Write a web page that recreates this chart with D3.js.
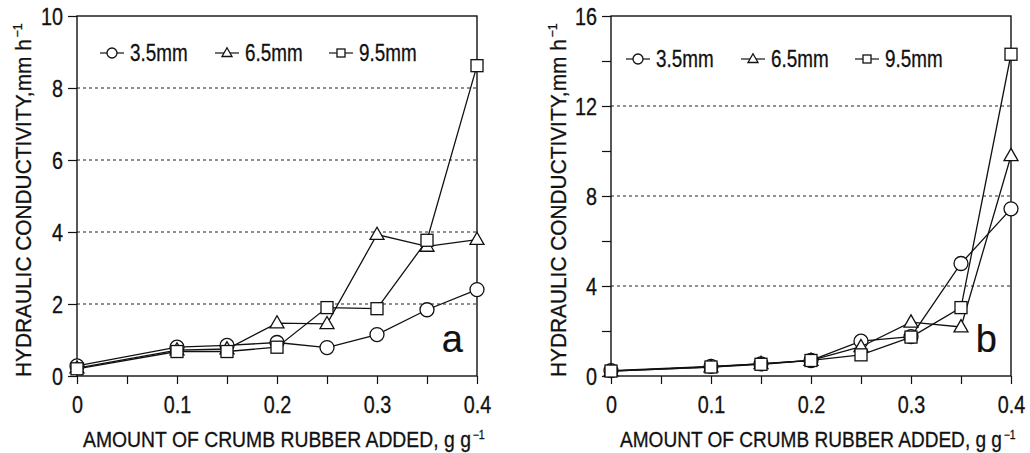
<!DOCTYPE html>
<html>
<head>
<meta charset="utf-8">
<script src="https://cdn.jsdelivr.net/npm/d3@7"></script>
<style>
  html, body { margin: 0; padding: 0; background: #fff; }
  svg { display: block; }
  text { font-family: "Liberation Sans", Arial, sans-serif; fill: #111; stroke: #111; stroke-width: 0.3px; }
</style>
</head>
<body>
<svg id="chart" width="1030" height="453"></svg>
<script>
// ---------------- DATA ----------------
const xValues = [0, 0.1, 0.15, 0.2, 0.25, 0.3, 0.35, 0.4];
const seriesNames = ["3.5mm", "6.5mm", "9.5mm"];
const seriesSymbols = ["circle", "triangle", "square"];

// Panel a
const a_35 = [0.28, 0.80, 0.85, 0.93, 0.79, 1.15, 1.84, 2.40];
const a_65 = [0.22, 0.72, 0.75, 1.47, 1.45, 3.93, 3.60, 3.79];
const a_95 = [0.20, 0.68, 0.68, 0.80, 1.90, 1.87, 3.77, 8.62];

// Panel b
const b_35 = [0.24, 0.43, 0.54, 0.69, 1.55, 1.75, 5.00, 7.43];
const b_65 = [0.22, 0.40, 0.55, 0.69, 1.30, 2.39, 2.18, 9.79];
const b_95 = [0.22, 0.40, 0.52, 0.69, 0.94, 1.73, 3.04, 14.30];

const xTicks = [0, 0.05, 0.1, 0.15, 0.2, 0.25, 0.3, 0.35, 0.4];
const xTickLabels = ["0", "", "0.1", "", "0.2", "", "0.3", "", "0.4"];

const a_yTicks = [0, 2, 4, 6, 8, 10];
const a_yTickLabels = ["0", "2", "4", "6", "8", "10"];
const a_grid = [2, 4, 6, 8];

const b_yTicks = [0, 2, 4, 6, 8, 10, 12, 14, 16];
const b_yTickLabels = ["0", "", "4", "", "8", "", "12", "", "16"];
const b_grid = [4, 8, 12];

const xTitle = "AMOUNT OF CRUMB RUBBER ADDED, g g";
const yTitle = "HYDRAULIC CONDUCTIVITY,mm h";
const sup = "\u22121";

// ---------------- LAYOUT ----------------
const svg = d3.select("#chart");
const panels = [
  { left: 77, right: 477, top: 16, bottom: 376, yMax: 10, series: [a_35, a_65, a_95],
    yTicks: a_yTicks, yLabels: a_yTickLabels, grid: a_grid, letter: "a",
    yTitleX: 31, legendY: 53, legendX: [112, 227, 341], xTitleSpan: [83, 483] },
  { left: 611, right: 1011, top: 16, bottom: 376, yMax: 16, series: [b_35, b_65, b_95],
    yTicks: b_yTicks, yLabels: b_yTickLabels, grid: b_grid, letter: "b",
    yTitleX: 566, legendY: 59, legendX: [638, 753, 867], xTitleSpan: [620, 1014] }
];

function drawSymbol(g, type, cx, cy, s) {
  if (type === "circle") {
    g.append("circle").attr("cx", cx).attr("cy", cy).attr("r", s / 2)
      .attr("fill", "#fff").attr("stroke", "#111").attr("stroke-width", 1.3);
  } else if (type === "square") {
    g.append("rect").attr("x", cx - s / 2 + 0.5).attr("y", cy - s / 2 + 0.5)
      .attr("width", s - 1).attr("height", s - 1)
      .attr("fill", "#fff").attr("stroke", "#111").attr("stroke-width", 1.3);
  } else {
    const h = s * 0.87;
    const pts = [[cx, cy - h * 0.6], [cx - s / 2, cy + h * 0.4], [cx + s / 2, cy + h * 0.4]];
    g.append("polygon").attr("points", pts.map(p => p.join(",")).join(" "))
      .attr("fill", "#fff").attr("stroke", "#111").attr("stroke-width", 1.3);
  }
}

// horizontally condense a text element around its own x anchor
function condense(node, k) {
  const ax = +(node.getAttribute("x") || 0);
  node.setAttribute("transform", `translate(${ax},0) scale(${k},1) translate(${-ax},0)`);
}

panels.forEach(p => {
  const x = d3.scaleLinear().domain([0, 0.4]).range([p.left, p.right]);
  const y = d3.scaleLinear().domain([0, p.yMax]).range([p.bottom, p.top]);
  const g = svg.append("g");

  // gridlines
  g.selectAll("line.grid").data(p.grid).enter().append("line")
    .attr("x1", p.left).attr("x2", p.right)
    .attr("y1", d => y(d)).attr("y2", d => y(d))
    .attr("stroke", "#222").attr("stroke-width", 1).attr("stroke-dasharray", "3,3");

  // axes
  const xAxis = d3.axisBottom(x).tickValues(xTicks).tickSize(8).tickPadding(13)
    .tickFormat((d, i) => xTickLabels[i]);
  const xg = g.append("g").attr("transform", `translate(0,${p.bottom})`).call(xAxis);
  const yAxis = d3.axisLeft(y).tickValues(p.yTicks).tickSize(9).tickPadding(5)
    .tickFormat((d, i) => p.yLabels[i]);
  const yg = g.append("g").attr("transform", `translate(${p.left},0)`).call(yAxis);
  [xg, yg].forEach(a => {
    a.attr("font-size", null).attr("font-family", null);
    a.select(".domain").remove();
    a.selectAll(".tick line").attr("stroke", "#111").attr("stroke-width", 1.2);
    a.selectAll(".tick text").attr("font-size", 23).attr("fill", "#111");
  });
  yg.selectAll(".tick text").attr("dy", "0.38em");
  xg.selectAll(".tick text").attr("x", 0);

  // frame
  g.append("rect").attr("x", p.left).attr("y", p.top)
    .attr("width", p.right - p.left).attr("height", p.bottom - p.top)
    .attr("fill", "none").attr("stroke", "#111").attr("stroke-width", 1.4);

  // series
  const line = d3.line().x((d, i) => x(xValues[i])).y(d => y(d));
  p.series.forEach((vals, si) => {
    const sg = g.append("g");
    sg.append("path").datum(vals).attr("d", line)
      .attr("fill", "none").attr("stroke", "#111").attr("stroke-width", 1.3);
    const size = seriesSymbols[si] === "square" ? 13 : 14;
    vals.forEach((v, i) => drawSymbol(sg, seriesSymbols[si], x(xValues[i]), y(v), size));
  });

  // legend
  seriesNames.forEach((name, si) => {
    const lx = p.legendX[si], ly = p.legendY;
    const lg = g.append("g");
    lg.append("line").attr("x1", lx - 12).attr("x2", lx + 12).attr("y1", ly).attr("y2", ly)
      .attr("stroke", "#111").attr("stroke-width", 1.2);
    drawSymbol(lg, seriesSymbols[si], lx, ly, seriesSymbols[si] === "square" ? 9 : 10);
    lg.append("text").attr("class", "cond").attr("x", lx + 18).attr("y", ly + 8)
      .attr("font-size", 23).text(name);
  });

  // panel letter
  g.append("text").attr("x", p.right - 14).attr("y", 352).attr("text-anchor", "end")
    .attr("font-size", 38).style("stroke-width", "0.2px").text(p.letter);

  // x title
  const xtg = g.append("g");
  const xt = xtg.append("text").attr("x", 0).attr("y", 0).attr("font-size", 22);
  xt.append("tspan").text(xTitle);
  xt.append("tspan").attr("dy", -8).attr("dx", 2).attr("font-size", 12).text(sup);
  const xk = (p.xTitleSpan[1] - p.xTitleSpan[0]) / xt.node().getComputedTextLength();
  xtg.attr("transform", `translate(${p.xTitleSpan[0]},447) scale(${xk},1)`);

  // y title
  const ytg = g.append("g");
  const yt = ytg.append("text").attr("x", 0).attr("y", 0).attr("font-size", 22);
  yt.append("tspan").text(yTitle);
  yt.append("tspan").attr("dy", -9).attr("dx", 2).attr("font-size", 13).text(sup);
  const yk = 352 / yt.node().getComputedTextLength();
  ytg.attr("transform", `translate(${p.yTitleX},377) rotate(-90) scale(${yk},1)`);
});

// condense tick labels and legend labels (narrow font look)
svg.selectAll(".tick text").each(function () { condense(this, 0.86); });
svg.selectAll("text.cond").each(function () { condense(this, 0.82); });
</script>
</body>
</html>
